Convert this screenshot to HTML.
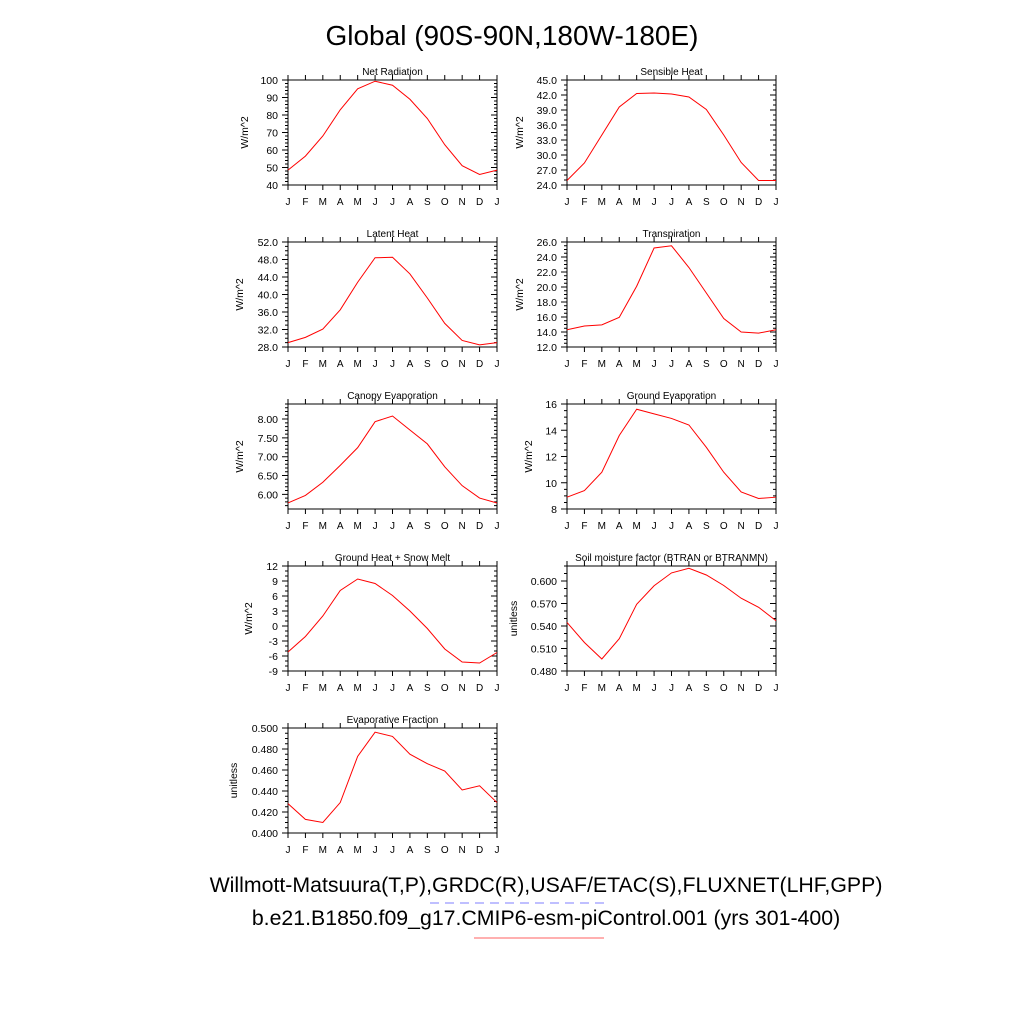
<!DOCTYPE html>
<html><head><meta charset="utf-8"><style>
html,body{margin:0;padding:0;background:#fff}
svg{display:block}
text{font-family:"Liberation Sans",sans-serif;fill:#000}
</style></head><body>
<svg id="chart" width="1024" height="1024" viewBox="0 0 1024 1024">
<text x="512" y="45" font-size="28" text-anchor="middle">Global (90S-90N,180W-180E)</text>
<text x="546" y="892" font-size="21.3" text-anchor="middle">Willmott-Matsuura(T,P),GRDC(R),USAF/ETAC(S),FLUXNET(LHF,GPP)</text>
<line x1="430" y1="903" x2="604" y2="903" stroke="#7f7fff" stroke-width="1" stroke-dasharray="9,6"/>
<text x="546" y="925" font-size="21.3" text-anchor="middle">b.e21.B1850.f09_g17.CMIP6-esm-piControl.001 (yrs 301-400)</text>
<line x1="474" y1="938" x2="604" y2="938" stroke="#ff6060" stroke-width="1"/>
</svg>
<script>
const months=["J","F","M","A","M","J","J","A","S","O","N","D","J"];
const netRad=[48.5,56.5,68,83,95,99.3,97,89,78,63,51,46,48.5];
const sensible=[24.9,28.4,34,39.6,42.3,42.4,42.2,41.6,39.1,34,28.5,24.9,24.9];
const latent=[29,30.2,32.1,36.5,42.8,48.4,48.5,44.7,39.2,33.4,29.5,28.5,29];
const transp=[14.3,14.8,14.95,15.95,20.1,25.2,25.5,22.6,19.2,15.8,14,13.85,14.3];
const canopy=[5.77,5.97,6.32,6.77,7.24,7.93,8.08,7.71,7.34,6.73,6.23,5.9,5.77];
const groundEvap=[8.9,9.4,10.8,13.6,15.6,15.25,14.9,14.4,12.7,10.8,9.3,8.8,8.9];
const groundHeat=[-5.2,-2.1,2,7.1,9.4,8.5,6.1,3,-0.5,-4.6,-7.2,-7.4,-5.3];
const soil=[0.5447,0.518,0.496,0.523,0.569,0.5937,0.6108,0.617,0.608,0.594,0.577,0.565,0.547];
const evapFrac=[0.428,0.413,0.41,0.429,0.473,0.496,0.492,0.475,0.466,0.459,0.441,0.445,0.429];
const panels=[
 {name:"net-radiation",title:"Net Radiation",unit:"W/m^2",data:netRad,min:40,max:100,step:10,dec:0,minor:5,col:0,row:0,uo:40},
 {name:"sensible-heat",title:"Sensible Heat",unit:"W/m^2",data:sensible,min:24,max:45,step:3,dec:1,minor:3,col:1,row:0,uo:44},
 {name:"latent-heat",title:"Latent Heat",unit:"W/m^2",data:latent,min:28,max:52,step:4,dec:1,minor:4,col:0,row:1,uo:45},
 {name:"transpiration",title:"Transpiration",unit:"W/m^2",data:transp,min:12,max:26,step:2,dec:1,minor:4,col:1,row:1,uo:44},
 {name:"canopy-evaporation",title:"Canopy Evaporation",unit:"W/m^2",data:canopy,min:5.61,max:8.4,step:0.5,dec:2,minor:5,col:0,row:2,t0:6,uo:45},
 {name:"ground-evaporation",title:"Ground Evaporation",unit:"W/m^2",data:groundEvap,min:8,max:16,step:2,dec:0,minor:4,col:1,row:2,uo:35},
 {name:"ground-heat",title:"Ground Heat + Snow Melt",unit:"W/m^2",data:groundHeat,min:-9,max:12,step:3,dec:0,minor:3,col:0,row:3,uo:36},
 {name:"soil-moisture",title:"Soil moisture factor (BTRAN or BTRANMN)",unit:"unitless",data:soil,min:0.48,max:0.62,step:0.03,dec:3,minor:3,col:1,row:3,uo:50},
 {name:"evaporative-fraction",title:"Evaporative Fraction",unit:"unitless",data:evapFrac,min:0.4,max:0.5,step:0.02,dec:3,minor:4,col:0,row:4,uo:51}
];
const NS="http://www.w3.org/2000/svg";
const svg=document.getElementById("chart");
function mk(tag,attrs,parent){const e=document.createElementNS(NS,tag);for(const k in attrs)e.setAttribute(k,attrs[k]);parent.appendChild(e);return e;}
panels.forEach(p=>{
 const x0=p.col?567:288, x1=p.col?776:497;
 const y0=80+p.row*162, y1=y0+105;
 const g=mk("g",{},svg);
 
 
 const xs=i=>x0+(x1-x0)*i/12;
 const ys=v=>y1-(v-p.min)/(p.max-p.min)*(y1-y0);
 const t=mk("text",{x:(x0+x1)/2,y:y0-5,"font-size":10,"text-anchor":"middle"},g);t.textContent=p.title;
 
 
 const yl=mk("text",{x:0,y:0,"font-size":10.5,"text-anchor":"middle",transform:`translate(${x0-p.uo},${(y0+y1)/2}) rotate(-90)`},g);yl.textContent=p.unit;
 
 
 let ticks="";
 for(let i=0;i<=12;i++){const x=xs(i);ticks+=`M${x},${y1}v5M${x},${y0}v-5`;
  const lb=mk("text",{x:x,y:y1+20,"font-size":10,"text-anchor":"middle"},g);lb.textContent=months[i];
  
  }
 const t0=p.t0!==undefined?p.t0:p.min;
 const ms=p.step/p.minor;
 for(let v=t0-Math.floor((t0-p.min)/ms+1e-9)*ms;v<=p.max+1e-9;v+=ms){const y=ys(v);ticks+=`M${x0},${y}h-3M${x1},${y}h-3`;}
 for(let v=t0;v<=p.max+1e-9;v+=p.step){const y=ys(v);ticks+=`M${x0},${y}h-6M${x1},${y}h-6`;
  const lb=mk("text",{x:x0-10,y:y+4,"font-size":10.5,"text-anchor":"end"},g);lb.textContent=v.toFixed(p.dec);
  
  }
 const tk=mk("path",{d:ticks,stroke:"#000","stroke-width":1,fill:"none"},g);
 
 
 const fr=mk("rect",{x:x0,y:y0,width:x1-x0,height:y1-y0,fill:"none",stroke:"#000","stroke-width":1},g);
 
 
 const ln=mk("polyline",{points:p.data.map((v,i)=>xs(i)+","+ys(v)).join(" "),fill:"none",stroke:"#ff0000","stroke-width":1},g);
 
 
});
</script>
</body></html>
